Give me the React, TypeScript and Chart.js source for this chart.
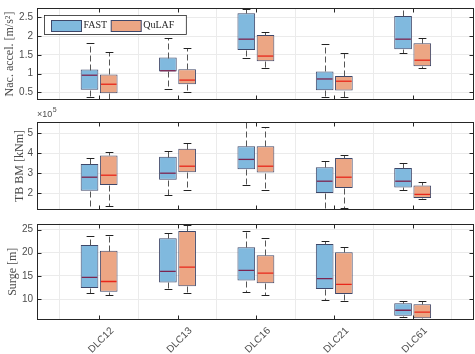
import React, { useEffect, useRef } from 'react';
import { Chart, registerables } from 'chart.js';

Chart.register(...registerables);

type Stat = [number, number, number, number, number]; // [min, Q1, median, Q3, max]

const categories = ['DLC12', 'DLC13', 'DLC16', 'DLC21', 'DLC61'];
const seriesNames = ['FAST', 'QuLAF'];

// Nacelle acceleration [m/s^2]
const accelFAST: Stat[] = [
  [0.37, 0.57, 0.96, 1.11, 1.83],
  [0.59, 1.06, 1.08, 1.43, 1.95],
  [1.43, 1.63, 1.92, 2.61, 2.73],
  [0.38, 0.56, 0.86, 1.06, 1.79],
  [1.56, 1.65, 1.92, 2.54, 2.74],
];
const accelQuLAF: Stat[] = [
  [0.31, 0.48, 0.72, 0.98, 1.59],
  [0.51, 0.72, 0.83, 1.12, 1.68],
  [1.14, 1.33, 1.47, 2.03, 2.12],
  [0.39, 0.55, 0.8, 0.94, 1.54],
  [1.15, 1.2, 1.36, 1.81, 1.94],
];
const accelTicks = [0.5, 1, 1.5, 2, 2.5];

// Tower-base bending moment [kNm], in units of 10^5
const tbbmFAST: Stat[] = [
  [1.22, 2.11, 2.79, 3.45, 3.76],
  [1.88, 2.66, 2.99, 3.81, 4.11],
  [2.38, 3.19, 3.68, 4.34, 5.53],
  [1.12, 2.0, 2.59, 3.29, 3.61],
  [2.15, 2.28, 2.59, 3.25, 3.49],
];
const tbbmQuLAF: Stat[] = [
  [1.37, 2.4, 2.89, 3.88, 4.03],
  [2.13, 3.04, 3.34, 4.21, 4.49],
  [2.13, 3.02, 3.34, 4.34, 5.28],
  [1.24, 2.25, 2.79, 3.75, 3.88],
  [1.7, 1.75, 1.93, 2.38, 2.57],
];
const tbbmTicks = [2, 3, 4, 5];

// Surge [m]
const surgeFAST: Stat[] = [
  [11.3, 12.4, 14.7, 21.65, 23.65],
  [12.1, 13.6, 16.0, 23.1, 24.3],
  [11.6, 14.0, 16.2, 21.2, 24.65],
  [9.8, 12.2, 14.4, 21.9, 22.6],
  [6.05, 6.4, 7.6, 9.1, 9.6],
];
const surgeQuLAF: Stat[] = [
  [10.9, 11.6, 13.8, 20.4, 23.8],
  [11.3, 12.8, 16.9, 24.7, 25.9],
  [10.9, 13.4, 15.6, 19.45, 23.15],
  [9.5, 11.1, 13.2, 20.1, 21.2],
  [5.7, 5.9, 7.2, 8.9, 9.5],
];
const surgeTicks = [10, 15, 20, 25];

const FILL = ['#80B9DE', '#ECA684'];
const EDGE = '#3e4769';
const MEDIAN = ['#7d2550', '#e8261a'];
const AXIS = '#262626';
const GRID = '#ebebeb';
const TICKC = '#4d4d4d';
const SANS = '"Liberation Sans", Arial, sans-serif';
const SERIF = '"Liberation Serif", "Times New Roman", serif';

const boxPlugin = {
  id: 'boxWhiskers',
  afterDatasetsDraw(chart: any) {
    const { ctx, chartArea: a } = chart;
    const ys = chart.scales.y;
    ctx.save();
    ctx.beginPath();
    ctx.rect(a.left, a.top, a.right - a.left, a.bottom - a.top);
    ctx.clip();
    chart.data.datasets.forEach((ds: any, d: number) => {
      const meta = chart.getDatasetMeta(d);
      meta.data.forEach((el: any, i: number) => {
        const [mn, q1, med, q3, mx] = ds.stats[i];
        const x = Math.round(el.x) + 0.5;
        const w = el.width;
        const py = (v: number) => Math.round(ys.getPixelForValue(v)) + 0.5;
        ctx.lineWidth = 1;
        // whiskers (dashed)
        ctx.strokeStyle = '#555';
        ctx.setLineDash([6, 3]);
        ctx.beginPath();
        ctx.moveTo(x, py(q3));
        ctx.lineTo(x, py(mx));
        ctx.moveTo(x, py(q1));
        ctx.lineTo(x, py(mn));
        ctx.stroke();
        ctx.setLineDash([]);
        // caps
        ctx.strokeStyle = '#222';
        const cw = w * 0.22;
        ctx.beginPath();
        ctx.moveTo(x - cw, py(mx));
        ctx.lineTo(x + cw, py(mx));
        ctx.moveTo(x - cw, py(mn));
        ctx.lineTo(x + cw, py(mn));
        ctx.stroke();
        // median
        ctx.strokeStyle = ds.medianColor;
        ctx.lineWidth = 1.3;
        ctx.beginPath();
        ctx.moveTo(el.x - w / 2 + 1, ys.getPixelForValue(med));
        ctx.lineTo(el.x + w / 2 - 1, ys.getPixelForValue(med));
        ctx.stroke();
      });
    });
    ctx.restore();
  },
};

const framePlugin = {
  id: 'frameTicks',
  afterDatasetsDraw(chart: any) {
    const { ctx, chartArea: a, scales } = chart;
    const xs = scales.x;
    const ys = scales.y;
    const L = Math.round(a.left) + 0.5;
    const R = Math.round(a.right) - 0.5;
    const T = Math.round(a.top) + 0.5;
    const B = Math.round(a.bottom) - 0.5;
    ctx.save();
    ctx.strokeStyle = AXIS;
    ctx.lineWidth = 1;
    ctx.strokeRect(L, T, R - L, B - T);
    ctx.beginPath();
    ys.ticks.forEach((t: any) => {
      const p = Math.round(ys.getPixelForValue(t.value)) + 0.5;
      ctx.moveTo(L, p);
      ctx.lineTo(L + 4, p);
      ctx.moveTo(R, p);
      ctx.lineTo(R - 4, p);
    });
    xs.ticks.forEach((t: any) => {
      const p = Math.round(xs.getPixelForValue(t.value)) + 0.5;
      ctx.moveTo(p, T);
      ctx.lineTo(p, T + 4);
      ctx.moveTo(p, B);
      ctx.lineTo(p, B - 4);
    });
    ctx.stroke();
    ctx.restore();
  },
};

const legendPlugin = {
  id: 'insideLegend',
  afterDraw(chart: any) {
    const { ctx, chartArea: a } = chart;
    const left = Math.round(a.left) + 7.5;
    const top = Math.round(a.top) + 7.5;
    const h = 19;
    ctx.save();
    ctx.font = `10px ${SERIF}`;
    let total = 7;
    const widths = chart.data.datasets.map((ds: any) => ctx.measureText(ds.label).width);
    widths.forEach((tw: number, i: number) => {
      total += 30 + 2 + tw + (i < widths.length - 1 ? 4 : 12);
    });
    ctx.fillStyle = '#fff';
    ctx.fillRect(left, top, total, h);
    ctx.strokeStyle = AXIS;
    ctx.lineWidth = 0.8;
    ctx.strokeRect(left, top, total, h);
    let x = left + 7;
    chart.data.datasets.forEach((ds: any, i: number) => {
      ctx.fillStyle = ds.backgroundColor;
      ctx.fillRect(x, top + 5, 30, 11);
      ctx.strokeStyle = EDGE;
      ctx.lineWidth = 1;
      ctx.strokeRect(x, top + 5, 30, 11);
      ctx.fillStyle = AXIS;
      ctx.textBaseline = 'middle';
      ctx.textAlign = 'left';
      ctx.fillText(ds.label, x + 32, top + h / 2 + 0.5);
      x += 30 + 2 + widths[i] + 4;
    });
    ctx.restore();
  },
};

const exponentPlugin = {
  id: 'exponentLabel',
  afterDraw(chart: any) {
    const { ctx, chartArea: a } = chart;
    ctx.save();
    ctx.fillStyle = TICKC;
    ctx.textAlign = 'left';
    ctx.textBaseline = 'alphabetic';
    ctx.font = `9px ${SANS}`;
    const base = '\u00d710';
    ctx.fillText(base, a.left, a.top - 5);
    const w = ctx.measureText(base).width;
    ctx.font = `7px ${SANS}`;
    ctx.fillText('5', a.left + w + 0.5, a.top - 10);
    ctx.restore();
  },
};

interface PanelCfg {
  fast: Stat[];
  qulaf: Stat[];
  yMin: number;
  yMax: number;
  yTicks: number[];
  yTitle: string;
  titlePad: number;
  padTop: number;
  padBottom: number;
  xHeight: number;
  showX: boolean;
  plugins: any[];
}

function makeChart(canvas: HTMLCanvasElement, c: PanelCfg) {
  const series = [c.fast, c.qulaf];
  return new Chart(canvas, {
    type: 'bar',
    data: {
      datasets: series.map((s, d) => ({
        label: seriesNames[d],
        data: s.map((st, i) => ({ x: i, y: [st[1], st[3]] })),
        stats: s,
        medianColor: MEDIAN[d],
        backgroundColor: FILL[d],
        borderColor: EDGE,
        borderWidth: 1,
        borderSkipped: false,
        categoryPercentage: 0.49,
        barPercentage: 0.92,
      })) as any,
    },
    options: {
      responsive: false,
      animation: false,
      devicePixelRatio: 1,
      events: [],
      layout: { padding: { top: c.padTop, bottom: c.padBottom, left: 0, right: 1 } },
      plugins: { legend: { display: false }, tooltip: { enabled: false } },
      scales: {
        x: {
          type: 'linear',
          min: -0.235,
          max: 4.225,
          afterBuildTicks: (s: any) => {
            s.ticks = categories.map((_, i) => ({ value: i }));
          },
          afterFit: (s: any) => {
            s.height = c.xHeight;
            s.paddingLeft = 0;
            s.paddingRight = 0;
          },
          grid: { color: GRID, drawTicks: false },
          border: { display: false },
          ticks: {
            display: c.showX,
            autoSkip: false,
            minRotation: 45,
            maxRotation: 45,
            padding: 5,
            labelOffset: 13,
            color: TICKC,
            font: { family: SANS, size: 10 },
            callback: (v: any) => categories[v as number] ?? '',
          },
        },
        y: {
          min: c.yMin,
          max: c.yMax,
          afterBuildTicks: (s: any) => {
            s.ticks = c.yTicks.map((v) => ({ value: v }));
          },
          afterFit: (s: any) => {
            s.width = 37;
            s.paddingTop = 0;
            s.paddingBottom = 0;
          },
          grid: { color: GRID, drawTicks: false },
          border: { display: false },
          ticks: {
            padding: 4,
            color: TICKC,
            font: { family: SANS, size: 10 },
            callback: (v: any) => String(v),
          },
          title: {
            display: true,
            text: c.yTitle,
            color: '#4a4a4a',
            font: { family: SERIF, size: 12 },
            padding: { top: c.titlePad, bottom: 0 },
          },
        },
      },
    } as any,
    plugins: [boxPlugin, framePlugin, ...c.plugins],
  });
}

export default function App() {
  const r1 = useRef<HTMLCanvasElement>(null);
  const r2 = useRef<HTMLCanvasElement>(null);
  const r3 = useRef<HTMLCanvasElement>(null);

  useEffect(() => {
    const charts = [
      makeChart(r1.current!, {
        fast: accelFAST, qulaf: accelQuLAF, yMin: 0.3, yMax: 2.75, yTicks: accelTicks,
        yTitle: 'Nac. accel. [m/s\u00b2]', titlePad: 2.8, padTop: 8, padBottom: 4, xHeight: 0,
        showX: false, plugins: [legendPlugin],
      }),
      makeChart(r2.current!, {
        fast: tbbmFAST, qulaf: tbbmQuLAF, yMin: 1.15, yMax: 5.55, yTicks: tbbmTicks,
        yTitle: 'TB BM [kNm]', titlePad: 12.3, padTop: 18, padBottom: 4, xHeight: 0,
        showX: false, plugins: [exponentPlugin],
      }),
      makeChart(r3.current!, {
        fast: surgeFAST, qulaf: surgeQuLAF, yMin: 5.5, yMax: 26.3, yTicks: surgeTicks,
        yTitle: 'Surge [m]', titlePad: 6.1, padTop: 9.5, padBottom: 0, xHeight: 34,
        showX: true, plugins: [],
      }),
    ];
    return () => charts.forEach((ch) => ch.destroy());
  }, []);

  const cs = (top: number, h: number): React.CSSProperties => ({
    position: 'absolute', left: 0, top, width: 475, height: h, display: 'block',
  });

  return (
    <div style={{ position: 'absolute', left: 0, top: 0, width: 475, height: 354, background: '#fff' }}>
      <canvas ref={r1} width={475} height={104} style={cs(0, 104)} />
      <canvas ref={r2} width={475} height={110} style={cs(104, 110)} />
      <canvas ref={r3} width={475} height={140} style={cs(214, 140)} />
    </div>
  );
}
